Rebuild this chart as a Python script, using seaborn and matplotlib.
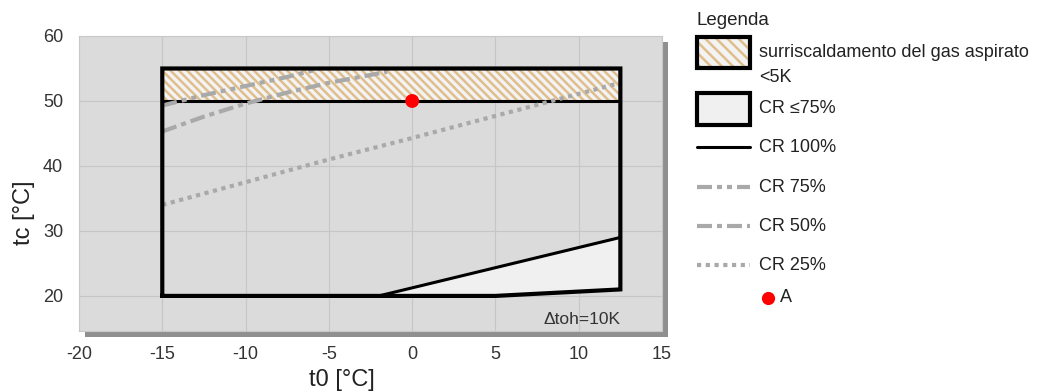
import matplotlib
matplotlib.use("Agg")
import matplotlib.pyplot as plt
from matplotlib.patches import Rectangle
from matplotlib.lines import Line2D
from matplotlib import transforms
import seaborn as sns

# --- operating envelope (evaporating t0 / condensing tc, °C) ---
env_t0 = [-15, 5, 12.5, 12.5, -15, -15]
env_tc = [20, 20, 21, 55, 55, 20]

# region with capacity regulation limited to <=75 %
cr_limited_t0 = [-2, 12.5, 12.5, 5, -2]
cr_limited_tc = [20, 29, 21, 20, 20]

# band with suction gas superheat < 5 K
band_t0 = [-15, 12.5]
band_low = [50, 50]
band_high = [55, 55]

# CR 100 % upper limit
cr100_t0 = [-15, 12.5]
cr100_tc = [50, 50]

# reduced capacity limits
cr75_t0 = [-15, -12.5, -10, -7.5, -5.5]
cr75_tc = [49.3, 50.9, 52.3, 53.7, 55.0]
cr50_t0 = [-15, -12.5, -10, -7.5, -5, -2.5, -1.5]
cr50_tc = [45.3, 47.6, 49.6, 51.3, 52.8, 54.0, 54.5]
cr25_t0 = [-15, -10, -5, 0, 5, 10, 12.5]
cr25_tc = [34.0, 37.5, 41.0, 44.3, 47.7, 51.1, 52.8]

# operating point A
point_t0 = [0]
point_tc = [50]

x_ticks = [-20, -15, -10, -5, 0, 5, 10, 15]
y_ticks = [20, 30, 40, 50, 60]

legend_title = "Legenda"
legend_labels = ["surriscaldamento del gas aspirato", "<5K", "CR \u226475%",
                 "CR 100%", "CR 75%", "CR 50%", "CR 25%", "A"]

sns.set_theme(style="white")
plt.rcParams["font.family"] = ["Liberation Sans", "DejaVu Sans"]
plt.rcParams["axes.unicode_minus"] = False
plt.rcParams["hatch.linewidth"] = 1.8
HATCH_COLOR = "#e0be8c"
HATCH = "\\\\\\\\"
plt.rcParams["hatch.color"] = HATCH_COLOR

W, H = 1039, 392
fig = plt.figure(figsize=(W / 100, H / 100), dpi=100)
fig.patch.set_facecolor("white")

ax = fig.add_axes([79 / W, 1 - 331 / H, 583 / W, 295 / H])
ax.set_facecolor("#dbdbdb")
ax.set_xlim(-20, 15)
ax.set_ylim(14.6, 60)

# drop shadow behind the plotting area
shadow_tr = transforms.offset_copy(ax.transAxes, fig=fig, x=6, y=-6, units="dots")
fig.patches.append(Rectangle((0, 0), 1, 1, transform=shadow_tr,
                             facecolor="#8f8f8f", edgecolor="none", zorder=-1))

ax.set_xticks(x_ticks)
ax.set_yticks(y_ticks)
ax.grid(True, color="#c6c6c6", linewidth=0.8)
ax.set_axisbelow(True)
ax.tick_params(axis="both", length=6.5, width=0.8, color="#c6c6c6",
               labelsize=13, labelcolor="#333333")
ax.tick_params(axis="x", pad=4)
ax.tick_params(axis="y", pad=5)
for s in ax.spines.values():
    s.set_color("#c8c8c8")
    s.set_linewidth(0.8)

ax.set_xlabel("t0 [°C]", fontsize=17, color="#222222", va="center")
ax.set_ylabel("tc [°C]", fontsize=17, color="#222222", va="center")
ax.xaxis.set_label_coords(0.451, -0.166)
ax.yaxis.set_label_coords(-0.094, 0.40)

# superheat band (hatched)
ax.fill_between(band_t0, band_low, band_high, facecolor="#f3f3f3",
                edgecolor=HATCH_COLOR, hatch=HATCH, linewidth=0, zorder=2)

# CR <= 75 % region
ax.fill(cr_limited_t0, cr_limited_tc, facecolor="#f0f0f0", edgecolor="none", zorder=2)
sns.lineplot(x=cr_limited_t0[:2], y=cr_limited_tc[:2], color="black",
             linewidth=2.2, ax=ax, zorder=4)

# CR 100 % limit
sns.lineplot(x=cr100_t0, y=cr100_tc, color="black", linewidth=2.2, ax=ax, zorder=3)

# reduced capacity curves
GRAY = "#a9a9a9"
LS75 = (0, (3.6, 1.2, 1.2, 1.2, 1.2, 1.2))
LS50 = (0, (3.6, 1.2, 1.2, 1.2))
LS25 = (0, (1.0, 1.1))
sns.lineplot(x=cr75_t0, y=cr75_tc, color=GRAY, linewidth=3, linestyle=LS75,
             ax=ax, zorder=4, sort=False)
sns.lineplot(x=cr50_t0, y=cr50_tc, color=GRAY, linewidth=3, linestyle=LS50,
             ax=ax, zorder=4, sort=False)
sns.lineplot(x=cr25_t0, y=cr25_tc, color=GRAY, linewidth=3, linestyle=LS25,
             ax=ax, zorder=4, sort=False)

# envelope outline
ax.plot(env_t0, env_tc, color="black", linewidth=3, solid_joinstyle="miter",
        solid_capstyle="projecting", zorder=5)

# operating point
sns.scatterplot(x=point_t0, y=point_tc, color="#ff0000", s=100, edgecolor="none",
                ax=ax, zorder=7)

ax.text(12.5, 16.4, "\u0394toh=10K", ha="right", va="center", fontsize=12.5,
        color="#333333", zorder=6)

# --- legend panel (figure pixel coordinates) ---
lax = fig.add_axes([0, 0, 1, 1])
lax.set_xlim(0, W)
lax.set_ylim(H, 0)
lax.axis("off")

KX0, KX1, TX = 697, 750, 759
FS = 13
TXT = "#222222"
lax.text(KX0, 20, legend_title, fontsize=13.5, color=TXT, va="center", ha="left")

lax.add_patch(Rectangle((KX0, 37), KX1 - KX0, 31, facecolor="#f3f3f3",
                        edgecolor=HATCH_COLOR, hatch="\\\\\\", linewidth=0))
lax.add_patch(Rectangle((KX0, 37), KX1 - KX0, 31, facecolor="none",
                        edgecolor="black", linewidth=3, joinstyle="miter"))
lax.text(TX, 52, legend_labels[0], fontsize=FS, color=TXT, va="center")
lax.text(TX, 77, legend_labels[1], fontsize=FS, color=TXT, va="center")

lax.add_patch(Rectangle((KX0, 93), KX1 - KX0, 32, facecolor="#f0f0f0",
                        edgecolor="black", linewidth=3, joinstyle="miter"))
lax.text(TX, 108, legend_labels[2], fontsize=FS, color=TXT, va="center")

legend_rows = [(147, "black", 2.2, "-", legend_labels[3]),
               (187, GRAY, 3, LS75, legend_labels[4]),
               (226, GRAY, 3, LS50, legend_labels[5]),
               (265, GRAY, 3, LS25, legend_labels[6])]
for y, c, lw, ls, lab in legend_rows:
    lax.add_line(Line2D([KX0, KX1], [y, y], color=c, linewidth=lw, linestyle=ls))
    lax.text(TX, y, lab, fontsize=FS, color=TXT, va="center")

lax.plot([768], [298], marker="o", markersize=9.5, color="#ff0000",
         markeredgewidth=0, linestyle="none")
lax.text(780, 298, legend_labels[7], fontsize=FS, color=TXT, va="center")

fig.savefig("out.png", dpi=100)
